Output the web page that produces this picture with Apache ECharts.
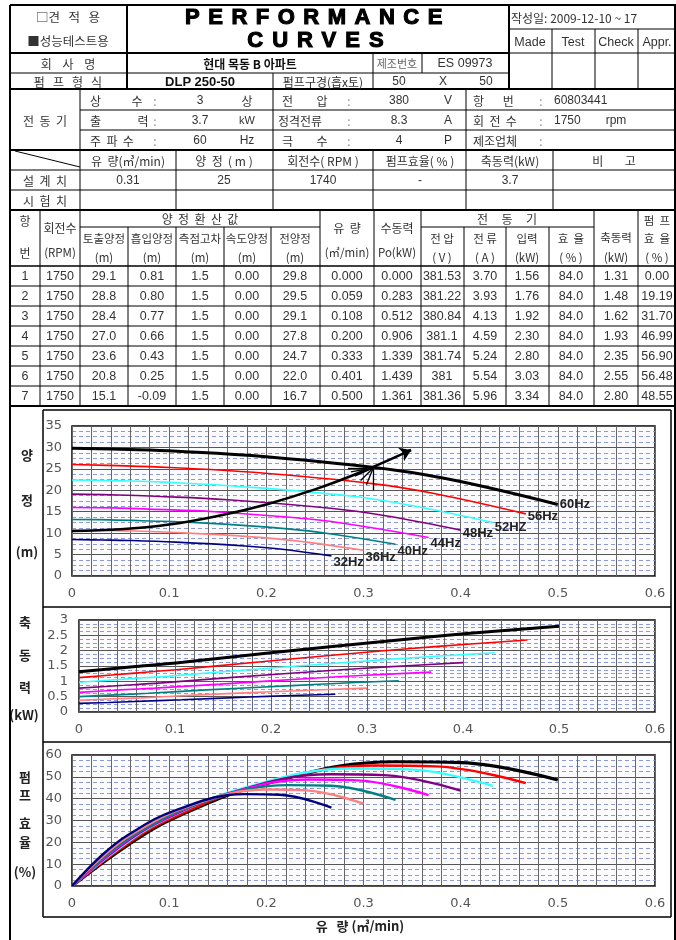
<!DOCTYPE html>
<html>
  <head>
    <title></title>
    <meta charset="UTF-8" />
    <script src="https://cdn.jsdelivr.net/npm/echarts@6/dist/echarts.min.js"></script>
    <style>
      body { margin: 0; background: #fff; }
      #main { position: absolute; left: 0; top: 0; width: 676px; height: 940px; }
      #sheet { position: absolute; left: 0; top: 0; }
      #sheet text { white-space: pre; }
    </style>
  </head>
  <body>
    <div id="main"></div>
    <svg id="sheet" width="676" height="940"></svg>
    <script>
      // curves, order 60Hz .. 32Hz
      const freqs = ['60Hz', '56Hz', '52HZ', '48Hz', '44Hz', '40Hz', '36Hz', '32Hz'];
      const flowByFreq = [
        [0, 0.059, 0.108, 0.2, 0.333, 0.401, 0.5],
        [0, 0.055, 0.101, 0.187, 0.311, 0.374, 0.467],
        [0, 0.051, 0.094, 0.173, 0.289, 0.348, 0.433],
        [0, 0.047, 0.086, 0.16, 0.266, 0.321, 0.4],
        [0, 0.043, 0.079, 0.147, 0.244, 0.294, 0.367],
        [0, 0.039, 0.072, 0.133, 0.222, 0.267, 0.333],
        [0, 0.035, 0.065, 0.12, 0.2, 0.241, 0.3],
        [0, 0.031, 0.058, 0.107, 0.178, 0.214, 0.267],
      ];
      const headByFreq = [
        [29.8, 29.5, 29.1, 27.8, 24.7, 22.0, 16.7],
        [26.0, 25.7, 25.3, 24.2, 21.5, 19.2, 14.5],
        [22.4, 22.2, 21.9, 20.9, 18.6, 16.5, 12.5],
        [19.1, 18.9, 18.6, 17.8, 15.8, 14.1, 10.7],
        [16.0, 15.9, 15.6, 15.0, 13.3, 11.8, 9.0],
        [13.2, 13.1, 12.9, 12.4, 11.0, 9.8, 7.4],
        [10.7, 10.6, 10.5, 10.0, 8.9, 7.9, 6.0],
        [8.5, 8.4, 8.3, 7.9, 7.0, 6.3, 4.7],
      ];
      const shaftByFreq = [
        [1.31, 1.48, 1.62, 1.93, 2.35, 2.55, 2.8],
        [1.12, 1.26, 1.38, 1.63, 1.98, 2.14, 2.35],
        [0.97, 1.08, 1.17, 1.37, 1.64, 1.77, 1.93],
        [0.78, 0.87, 0.95, 1.13, 1.36, 1.47, 1.61],
        [0.64, 0.72, 0.78, 0.91, 1.1, 1.19, 1.3],
        [0.5, 0.56, 0.61, 0.72, 0.86, 0.93, 1.02],
        [0.38, 0.43, 0.46, 0.55, 0.66, 0.71, 0.78],
        [0.28, 0.31, 0.34, 0.4, 0.49, 0.53, 0.58],
      ];
      const effByFreq = [
        [0, 19.19, 31.7, 46.99, 56.9, 56.48, 48.55],
        [0, 18.6, 30.7, 45.6, 55.2, 54.8, 47.1],
        [0, 18.1, 30.0, 44.4, 53.8, 53.4, 45.9],
        [0, 17.3, 28.5, 42.3, 51.2, 50.8, 43.7],
        [0, 16.4, 27.2, 40.3, 48.8, 48.4, 41.6],
        [0, 15.6, 25.7, 38.2, 46.2, 45.9, 39.4],
        [0, 14.9, 24.6, 36.5, 44.2, 43.8, 37.7],
        [0, 14.2, 23.5, 34.8, 42.1, 41.8, 35.9],
      ];
      // system curve
      const systemFlow = [0, 0.05, 0.1, 0.15, 0.2, 0.25, 0.3, 0.348];
      const systemHead = [10.5, 10.9, 12.0, 14.0, 16.7, 20.2, 24.5, 29.3];
      const dutyPoint = [0.31, 25.2];

      // sheet values
      const testRows = [
        ['1', '1750', '29.1', '0.81', '1.5', '0.00', '29.8', '0.000', '0.000', '381.53', '3.70', '1.56', '84.0', '1.31', '0.00'],
        ['2', '1750', '28.8', '0.80', '1.5', '0.00', '29.5', '0.059', '0.283', '381.22', '3.93', '1.76', '84.0', '1.48', '19.19'],
        ['3', '1750', '28.4', '0.77', '1.5', '0.00', '29.1', '0.108', '0.512', '380.84', '4.13', '1.92', '84.0', '1.62', '31.70'],
        ['4', '1750', '27.0', '0.66', '1.5', '0.00', '27.8', '0.200', '0.906', '381.1', '4.59', '2.30', '84.0', '1.93', '46.99'],
        ['5', '1750', '23.6', '0.43', '1.5', '0.00', '24.7', '0.333', '1.339', '381.74', '5.24', '2.80', '84.0', '2.35', '56.90'],
        ['6', '1750', '20.8', '0.25', '1.5', '0.00', '22.0', '0.401', '1.439', '381', '5.54', '3.03', '84.0', '2.55', '56.48'],
        ['7', '1750', '15.1', '-0.09', '1.5', '0.00', '16.7', '0.500', '1.361', '381.36', '5.96', '3.34', '84.0', '2.80', '48.55'],
      ];
      const designValues = ['0.31', '25', '1740', '-', '3.7'];

      const colors = ['#000000', '#ff0000', '#33ffff', '#800080', '#ff00ff', '#008080', '#ff8080', '#000080'];
      const labelOffset = [[0, 0], [0, 3], [0, 5], [0, 3], [0, 6], [0, 7], [0, 7], [0, 7]];

      // ---------- sheet (table) ----------
      const svg = document.getElementById('sheet');
      const NS = 'http://www.w3.org/2000/svg';
      const KR = "'Noto Sans CJK KR', sans-serif";
      const LAT = "'Liberation Sans', Arial, sans-serif";
      function L(x1, y1, x2, y2, w = 1) {
        const l = document.createElementNS(NS, 'line');
        l.setAttribute('x1', x1); l.setAttribute('y1', y1);
        l.setAttribute('x2', x2); l.setAttribute('y2', y2);
        l.setAttribute('stroke', '#000');
        l.setAttribute('stroke-width', w);
        svg.appendChild(l);
      }
      const H = (x1, x2, y, w) => L(x1, y, x2, y, w);
      const V = (x, y1, y2, w) => L(x, y1, x, y2, w);
      function T(x, y, s, o = {}) {
        const t = document.createElementNS(NS, 'text');
        t.setAttribute('x', x); t.setAttribute('y', y);
        t.setAttribute('text-anchor', o.a || 'middle');
        t.setAttribute('dominant-baseline', 'central');
        t.setAttribute('font-size', o.s || 12);
        t.setAttribute('font-family', o.f || KR);
        t.setAttribute('fill', o.c || '#333');
        if (o.w) t.setAttribute('font-weight', o.w);
        if (o.ls) t.setAttribute('letter-spacing', o.ls);
        if (o.stroke) { t.setAttribute('stroke', o.c || '#000'); t.setAttribute('stroke-width', o.stroke); }
        t.textContent = s;
        svg.appendChild(t);
      }

      // outer frame
      H(10, 676, 5, 2); V(10, 5, 940, 2); V(675, 5, 940, 2);
      // header block
      H(10, 509, 53, 2); H(509, 676, 53, 1); H(509, 676, 29, 1); H(10, 509, 73, 1); H(10, 676, 89, 2);
      V(127, 5, 89, 2); V(509, 5, 89, 2);
      [552, 595, 638].forEach((x) => V(x, 29, 89, 1));
      V(273, 73, 89, 1); V(373, 53, 89, 1); V(422, 53, 73, 1);
      T(68, 16, '□견   적   용', { s: 12.5 });
      T(68, 40, '■성능테스트용', { s: 12.5 });
      T(318, 16, 'PERFORMANCE', { s: 22, w: 900, f: LAT, ls: 8.5, c: '#000', stroke: 1.1 });
      T(320, 39, 'CURVES', { s: 22, w: 900, f: LAT, ls: 9, c: '#000', stroke: 1.1 });
      T(511, 17, '작성일: 2009-12-10 ~ 17', { a: 'start', s: 12 });
      T(530, 42, 'Made', { f: LAT, s: 12.5 }); T(573, 42, 'Test', { f: LAT, s: 12.5 });
      T(616, 42, 'Check', { f: LAT, s: 12.5 }); T(657, 42, 'Appr.', { f: LAT, s: 12.5 });
      T(68, 63, '회    사    명'); T(250, 63, '현대 목동 B 아파트', { w: 'bold', c: '#111' });
      T(397, 63, '제조번호', { s: 11, c: '#666' }); T(465, 63, 'ES 09973', { f: LAT, s: 12.5 });
      T(68, 81, '펌   프   형   식'); T(200, 81, 'DLP 250-50', { w: 'bold', f: LAT, s: 13, c: '#111' });
      T(323, 81, '펌프구경(흡x토)'); T(399, 81, '50', { f: LAT }); T(443, 81, 'X', { f: LAT }); T(486, 81, '50', { f: LAT });

      // motor block
      H(80, 676, 110, 1); H(80, 676, 130, 1); H(10, 676, 150, 2);
      V(80, 89, 150, 1); V(273, 89, 150, 1); V(466, 89, 150, 1);
      T(45, 120, '전  동  기');
      T(90, 100, '상', { a: 'start' }); T(137, 100, '수'); T(155, 100, ':', { c: '#888' }); T(200, 100, '3', { f: LAT }); T(247, 100, '상');
      T(90, 120, '출', { a: 'start' }); T(143, 120, '력'); T(155, 120, ':', { c: '#888' }); T(200, 120, '3.7', { f: LAT }); T(247, 120, 'kW', { f: LAT, s: 11 });
      T(90, 140, '주  파  수', { a: 'start' }); T(155, 140, ':', { c: '#888' }); T(200, 140, '60', { f: LAT }); T(247, 140, 'Hz', { f: LAT });
      T(282, 100, '전', { a: 'start' }); T(322, 100, '압'); T(349, 100, ':', { c: '#888' }); T(399, 100, '380', { f: LAT }); T(448, 100, 'V', { f: LAT });
      T(278, 120, '정격전류', { a: 'start' }); T(349, 120, ':', { c: '#888' }); T(399, 120, '8.3', { f: LAT }); T(448, 120, 'A', { f: LAT });
      T(282, 140, '극', { a: 'start' }); T(322, 140, '수'); T(349, 140, ':', { c: '#888' }); T(399, 140, '4', { f: LAT }); T(448, 140, 'P', { f: LAT });
      T(473, 100, '항       번', { a: 'start' }); T(541, 100, ':', { c: '#888' }); T(554, 100, '60803441', { a: 'start', f: LAT });
      T(473, 120, '회  전  수', { a: 'start' }); T(541, 120, ':', { c: '#888' }); T(554, 120, '1750', { a: 'start', f: LAT }); T(616, 120, 'rpm', { f: LAT });
      T(473, 140, '제조업체', { a: 'start' }); T(541, 140, ':', { c: '#888' });

      // design / test rows
      H(10, 676, 170, 1); H(10, 676, 190, 1); H(10, 676, 210, 2);
      [80, 176, 273, 373, 466, 553].forEach((x) => V(x, 150, 210, 1));
      L(15, 151, 80, 167, 1);
      T(128, 160, '유  량(㎥/min)'); T(224, 160, '양  정  ( m )'); T(323, 160, '회전수( RPM )');
      T(420, 160, '펌프효율( % )'); T(510, 160, '축동력(kW)'); T(614, 160, '비        고');
      T(45, 180, '설  계  치'); T(45, 200, '시  험  치');
      [128, 224, 323, 420, 510].forEach((x, i) => T(x, 180, designValues[i], { f: LAT }));

      // test table
      H(80, 320, 227, 1); H(421, 594, 227, 1); H(10, 676, 266, 1.5);
      for (let k = 1; k < 7; k++) H(10, 676, 266 + 20 * k, 1);
      H(10, 676, 406, 2);
      [40, 80, 320, 374, 421, 594, 638].forEach((x) => V(x, 210, 406, 1));
      [128, 176, 224, 271, 464, 506, 549].forEach((x) => V(x, 227, 406, 1));
      const S = 11.5;
      T(25, 220, '항'); T(25, 252, '번');
      T(60, 227, '회전수'); T(60, 252, '(RPM)', { s: S });
      T(200, 218, '양  정  환  산  값');
      [['토출양정', 104], ['흡입양정', 152], ['측점고차', 200], ['속도양정', 247], ['전양정', 295]].forEach(([s, x]) => {
        T(x, 238, s, { s: S }); T(x, 257, '(m)', { s: S });
      });
      T(347, 227, '유  량'); T(347, 252, '(㎥/min)', { s: S });
      T(397, 227, '수동력'); T(397, 252, 'Po(kW)', { s: S });
      T(507, 218, '전     동     기');
      [['전 압', '( V )', 442], ['전 류', '( A )', 485], ['입력', '(kW)', 527], ['효  율', '( % )', 571]].forEach(([a, b, x]) => {
        T(x, 238, a, { s: S }); T(x, 257, b, { s: S });
      });
      T(616, 237, '축동력', { s: S }); T(616, 257, '(kW)', { s: S });
      T(657, 220, '펌  프', { s: S }); T(657, 238, '효  율', { s: S }); T(657, 257, '( % )', { s: S });
      const colX = [25, 60, 104, 152, 200, 247, 295, 347, 397, 442, 485, 527, 571, 616, 657];
      testRows.forEach((row, k) => {
        row.forEach((v, j) => T(colX[j], 276 + 20 * k, v, { f: LAT, s: 12.5, c: '#333' }));
      });

      // chart boxes
      H(43, 671, 410, 1.5); H(43, 671, 607, 1.5); H(43, 671, 742, 1.5); H(43, 671, 917, 1.5);
      V(43, 410, 917, 1.5); V(671, 410, 917, 1.5);

      // ---------- charts ----------
      const myChart = echarts.init(document.getElementById('main'));
      const gridDefs = [
        { left: 72, top: 426, width: 583, height: 150 },
        { left: 79, top: 620, width: 576, height: 92 },
        { left: 72, top: 755, width: 583, height: 131 },
      ];
      const yDefs = [
        { max: 35, interval: 5 },
        { max: 3, interval: 0.5 },
        { max: 60, interval: 10 },
      ];
      const grid = gridDefs.map((g) => ({
        ...g,
        show: true,
        backgroundColor: '#fbfbfe',
        borderColor: '#000',
        borderWidth: 1.5,
      }));
      const xAxis = gridDefs.map((g, i) => ({
        gridIndex: i,
        type: 'value',
        min: 0,
        max: 0.6,
        interval: 0.02,
        axisLine: { show: false },
        axisTick: { show: false },
        axisLabel: {
          margin: 11,
          color: '#555',
          fontSize: 13,
          fontFamily: 'DejaVu Sans',
          formatter: (v) => {
            const t = Math.round(v * 100);
            if (t % 10 !== 0) return '';
            return t === 0 ? '0' : (t / 100).toFixed(1);
          },
        },
        splitLine: { show: true, lineStyle: { color: '#666', width: 1 } },
      }));
      const yAxis = yDefs.map((d, i) => ({
        gridIndex: i,
        type: 'value',
        min: 0,
        max: d.max,
        interval: d.interval,
        axisLine: { show: false },
        axisTick: { show: false },
        minorTick: { show: true, splitNumber: 4, length: 0 },
        minorSplitLine: { show: true, lineStyle: { color: '#8c9ad6', width: 1, type: [4, 3] } },
        axisLabel: { margin: i === 1 ? 11 : 10, color: '#555', fontSize: 13, fontFamily: 'DejaVu Sans' },
        splitLine: { show: true, lineStyle: { color: '#555', width: 1 } },
      }));

      const series = [];
      const order = [7, 6, 5, 4, 3, 2, 1, 0];
      // head
      order.forEach((i) => {
        series.push({
          type: 'line',
          xAxisIndex: 0,
          yAxisIndex: 0,
          smooth: 0.4,
          symbol: 'none',
          data: flowByFreq[i].map((q, k) => [q, headByFreq[i][k]]),
          lineStyle: { color: colors[i], width: i === 0 ? 3 : 1.6 },
          endLabel: {
            show: true,
            formatter: freqs[i],
            distance: 2,
            offset: labelOffset[i],
            color: '#222',
            fontWeight: 'bold',
            fontSize: 13,
            fontFamily: 'Liberation Sans',
          },
          z: i === 0 ? 5 : 3,
        });
      });
      series.push({
        type: 'line',
        xAxisIndex: 0,
        yAxisIndex: 0,
        smooth: 0.4,
        symbol: 'none',
        data: systemFlow.map((q, k) => [q, systemHead[k]]),
        lineStyle: { color: '#000', width: 2.5 },
        z: 6,
        markLine: {
          silent: true,
          animation: false,
          symbol: ['none', 'none'],
          label: { show: false },
          lineStyle: { color: '#000', width: 1.3, type: 'solid' },
          data: [
            [{ coord: [0.34, 28.5] }, { coord: [0.349, 29.4], symbol: 'arrow', symbolSize: 11, lineStyle: { width: 2.5 } }],
            [{ coord: [0.284, dutyPoint[1]] }, { coord: dutyPoint }],
            [{ coord: dutyPoint }, { coord: [dutyPoint[0], 20.0] }],
            [{ coord: dutyPoint }, { coord: [0.287, 24.3] }],
            [{ coord: dutyPoint }, { coord: [0.291, 23.3] }],
            [{ coord: dutyPoint }, { coord: [0.297, 22.3] }],
            [{ coord: dutyPoint }, { coord: [0.303, 21.3] }],
          ],
        },
      });
      // shaft power
      order.forEach((i) => {
        series.push({
          type: 'line',
          xAxisIndex: 1,
          yAxisIndex: 1,
          smooth: 0.4,
          symbol: 'none',
          data: flowByFreq[i].map((q, k) => [q, shaftByFreq[i][k]]),
          lineStyle: { color: colors[i], width: i === 0 ? 3 : 1.6 },
          z: i === 0 ? 5 : 3,
        });
      });
      // efficiency
      [0, 1, 2, 3, 4, 5, 6, 7].forEach((i) => {
        series.push({
          type: 'line',
          xAxisIndex: 2,
          yAxisIndex: 2,
          smooth: 0.4,
          symbol: 'none',
          data: flowByFreq[i].map((q, k) => [q, effByFreq[i][k]]),
          lineStyle: { color: colors[i], width: i === 0 ? 3.2 : 2.4 },
          z: 3 + i * 0.1,
        });
      });

      const titleText = (x, y, s, size = 13) => ({
        type: 'text',
        x,
        y,
        style: { text: s, fill: '#222', font: `bold ${size}px 'Noto Sans CJK KR'`, textAlign: 'center', textVerticalAlign: 'middle' },
      });

      const option = {
        animation: false,
        grid,
        xAxis,
        yAxis,
        series,
        graphic: [
          titleText(27, 455, '양'),
          titleText(27, 500, '정'),
          titleText(27, 552, '(m)'),
          titleText(25, 622, '축'),
          titleText(25, 655, '동'),
          titleText(25, 687, '력'),
          titleText(24, 715, '(kW)'),
          titleText(25, 777, '펌'),
          titleText(25, 795, '프'),
          titleText(25, 823, '효'),
          titleText(25, 842, '율'),
          titleText(25, 872, '(%)'),
          titleText(360, 926, '유   량 (㎥/min)'),
        ],
      };
      myChart.setOption(option);
    </script>
  </body>
</html>
